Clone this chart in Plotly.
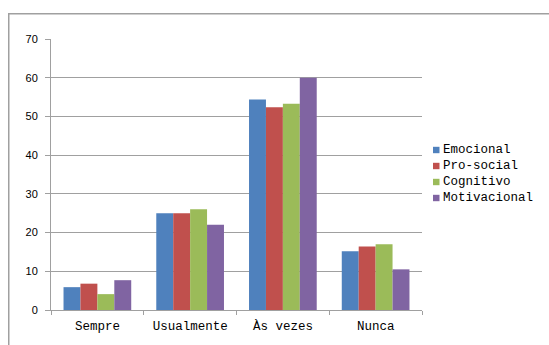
import plotly.graph_objects as go

categories = ["Sempre", "Usualmente", "Às vezes", "Nunca"]
emocional = [5.9, 25.0, 54.4, 15.2]
pro_social = [6.8, 25.0, 52.4, 16.4]
cognitivo = [4.1, 26.0, 53.3, 17.0]
motivacional = [7.7, 22.0, 60.0, 10.5]
series_names = ["Emocional", "Pro-social", "Cognitivo", "Motivacional"]
colors = ["#4F81BD", "#C0504D", "#9BBB59", "#8064A2"]
y_ticks = [0, 10, 20, 30, 40, 50, 60, 70]

fig = go.Figure()
for name, vals, col in zip(series_names, [emocional, pro_social, cognitivo, motivacional], colors):
    fig.add_trace(go.Bar(x=categories, y=vals, name=name, marker_color=col,
                         marker_line_width=0, showlegend=False))

W, H = 549, 345
L, R, T, B = 51, 127, 39, 35
pw, ph = W - L - R, H - T - B

def px_x(p):
    return (p - L) / pw

def px_y(p):
    return (H - B - p) / ph

fig.update_layout(
    width=W, height=H,
    margin=dict(l=L, r=R, t=T, b=B, autoexpand=False),
    paper_bgcolor="white", plot_bgcolor="white",
    barmode="group", bargap=0.27, bargroupgap=0,
    font=dict(family="Liberation Mono", size=12.5, color="#000000"),
    showlegend=False,
)
fig.update_xaxes(showline=True, linecolor="#A0A0A0", linewidth=1,
                 ticks="outside", tickson="boundaries", ticklen=4, tickcolor="#A0A0A0",
                 ticklabelstandoff=4,
                 tickfont=dict(family="Liberation Mono", size=12.5))
fig.update_yaxes(range=[0, 70], tickvals=y_ticks, showgrid=True, gridcolor="#A0A0A0",
                 gridwidth=1, showline=True, linecolor="#A0A0A0", linewidth=1,
                 ticks="outside", ticklen=5, tickcolor="#A0A0A0",
                 ticklabelstandoff=5,
                 tickfont=dict(family="Liberation Sans", size=11), zeroline=False)

# custom legend (small squares + labels), as in the reference
leg_x0, leg_top, leg_step = 433, 150, 16
for i, (name, col) in enumerate(zip(series_names, colors)):
    cy = leg_top + i * leg_step
    fig.add_shape(type="rect", xref="paper", yref="paper",
                  x0=px_x(leg_x0), x1=px_x(leg_x0 + 6.5),
                  y0=px_y(cy - 3.2), y1=px_y(cy + 3.2),
                  fillcolor=col, line=dict(width=0))
    fig.add_annotation(xref="paper", yref="paper", x=px_x(leg_x0 + 7.5), y=px_y(cy),
                       text=name, showarrow=False, xanchor="left", yanchor="middle",
                       font=dict(family="Liberation Mono", size=12.5, color="#000000"))

# outer frame (top and left edges visible; right/bottom fall outside the page)
fig.add_annotation(xref="paper", yref="paper", x=px_x(7.8), y=px_y(12.8),
                   xanchor="left", yanchor="top", text=" ", showarrow=False,
                   width=580, height=380, borderpad=0,
                   bordercolor="#A0A0A0", borderwidth=1.5,
                   font=dict(size=1))

fig.write_html("out.html", config={"displayModeBar": False})
